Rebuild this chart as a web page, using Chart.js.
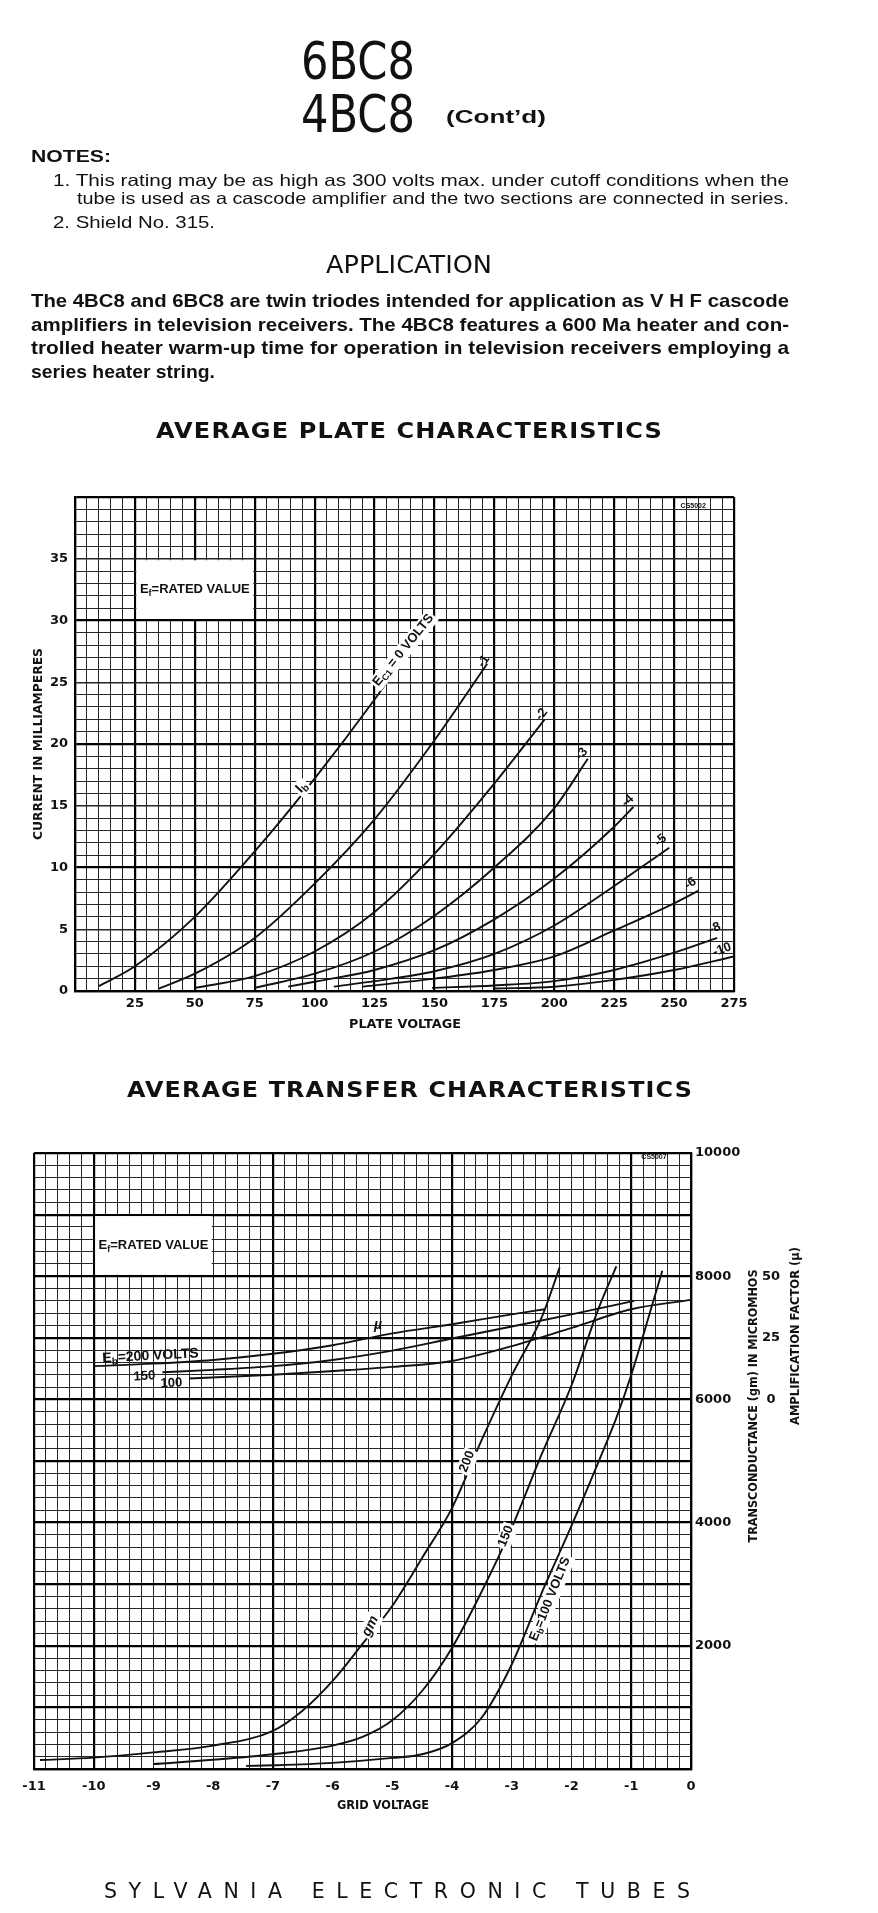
<!DOCTYPE html>
<html>
<head>
<meta charset="utf-8">
<title>6BC8 / 4BC8 characteristics</title>
<script src="https://cdn.jsdelivr.net/npm/chart.js@4.4.0/dist/chart.umd.min.js"></script>
<style>
  html, body { margin: 0; padding: 0; background: #fff; }
  #page { position: relative; width: 878px; height: 1913px; overflow: hidden; background: #fff; }
  canvas { position: absolute; left: 0; }
  #plate { top: 440px; }
  #transfer { top: 1110px; }
  #txt { position: absolute; left: 0; top: 0; pointer-events: none; }
</style>
</head>
<body>
<div id="page">
  <canvas id="plate" width="878" height="600"></canvas>
  <canvas id="transfer" width="878" height="720"></canvas>
  <svg id="txt" width="878" height="1913">
    <g font-family="DejaVu Sans" fill="#111">
      <text x="301" y="79" font-size="51" textLength="114" lengthAdjust="spacingAndGlyphs">6BC8</text>
      <text x="301" y="132" font-size="51" textLength="114" lengthAdjust="spacingAndGlyphs">4BC8</text>
      <text x="446" y="123" font-family="Liberation Sans" font-weight="bold" font-size="19" textLength="100" lengthAdjust="spacingAndGlyphs">(Cont’d)</text>

      <g font-family="Liberation Sans">
        <text x="31" y="162" font-weight="bold" font-size="17" textLength="80" lengthAdjust="spacingAndGlyphs">NOTES:</text>
        <text x="53" y="186" font-size="16.5" textLength="736" lengthAdjust="spacingAndGlyphs">1. This rating may be as high as 300 volts max. under cutoff conditions when the</text>
        <text x="77" y="204" font-size="16.5" textLength="712" lengthAdjust="spacingAndGlyphs">tube is used as a cascode amplifier and the two sections are connected in series.</text>
        <text x="53" y="228" font-size="16.5" textLength="162" lengthAdjust="spacingAndGlyphs">2. Shield No. 315.</text>
      </g>

      <text x="326" y="273" font-size="24" textLength="166" lengthAdjust="spacingAndGlyphs">APPLICATION</text>

      <g font-family="Liberation Sans" font-weight="bold" font-size="18.5">
        <text x="31" y="307" textLength="758" lengthAdjust="spacingAndGlyphs">The 4BC8 and 6BC8 are twin triodes intended for application as V H F cascode</text>
        <text x="31" y="331" textLength="758" lengthAdjust="spacingAndGlyphs">amplifiers in television receivers. The 4BC8 features a 600 Ma heater and con-</text>
        <text x="31" y="354" textLength="758" lengthAdjust="spacingAndGlyphs">trolled heater warm-up time for operation in television receivers employing a</text>
        <text x="31" y="378" textLength="184" lengthAdjust="spacingAndGlyphs">series heater string.</text>
      </g>

      <g font-weight="bold" font-size="21" letter-spacing="1">
        <text x="156" y="438" textLength="507" lengthAdjust="spacingAndGlyphs">AVERAGE  PLATE  CHARACTERISTICS</text>
        <text x="127" y="1097" textLength="566" lengthAdjust="spacingAndGlyphs">AVERAGE  TRANSFER  CHARACTERISTICS</text>
      </g>

      <g font-weight="bold" font-size="11.5" text-anchor="middle">
        <text transform="translate(42,744) rotate(-90)" textLength="192" lengthAdjust="spacingAndGlyphs">CURRENT IN MILLIAMPERES</text>
        <text x="405" y="1028" textLength="112" lengthAdjust="spacingAndGlyphs">PLATE VOLTAGE</text>
        <text x="383" y="1809" textLength="92" lengthAdjust="spacingAndGlyphs">GRID VOLTAGE</text>
        <text transform="translate(757,1406) rotate(-90)" textLength="273" lengthAdjust="spacingAndGlyphs">TRANSCONDUCTANCE (gm) IN MICROMHOS</text>
        <text transform="translate(799,1336) rotate(-90)" textLength="178" lengthAdjust="spacingAndGlyphs">AMPLIFICATION FACTOR (µ)</text>
      </g>

      <text x="104" y="1898" font-size="20.5" textLength="586">SYLVANIA ELECTRONIC TUBES</text>
    </g>
  </svg>
</div>

<script>
  // ---- plate characteristics: plate volts vs plate mA, one pair per grid voltage
  const plateVoltTicks = [25, 50, 75, 100, 125, 150, 175, 200, 225, 250, 275];
  const plateMaTicks = [0, 5, 10, 15, 20, 25, 30, 35];

  const ec0Volts = [10, 25, 50, 75, 100, 125, 150];
  const ec0Ma = [0.4, 2.0, 6.0, 11.3, 17.2, 23.6, 30.5];
  const ec1Volts = [35, 50, 75, 100, 125, 150, 172];
  const ec1Ma = [0.2, 1.4, 4.3, 8.7, 13.9, 20.3, 26.5];
  const ec2Volts = [50, 75, 100, 125, 150, 175, 196];
  const ec2Ma = [0.25, 1.2, 3.2, 6.4, 11.1, 16.8, 22.0];
  const ec3Volts = [75, 100, 125, 150, 175, 200, 214];
  const ec3Ma = [0.25, 1.4, 3.2, 6.1, 10.0, 14.8, 18.8];
  const ec4Volts = [89, 100, 125, 150, 175, 200, 225, 233];
  const ec4Ma = [0.35, 0.75, 1.7, 3.3, 5.8, 9.1, 13.3, 14.9];
  const ec5Volts = [108, 125, 150, 175, 200, 225, 248];
  const ec5Ma = [0.35, 0.8, 1.6, 3.0, 5.3, 8.5, 11.6];
  const ec6Volts = [120, 150, 175, 200, 225, 250, 260];
  const ec6Ma = [0.35, 1.0, 1.7, 2.8, 4.9, 7.1, 8.1];
  const ec8Volts = [149, 175, 200, 225, 250, 268];
  const ec8Ma = [0.25, 0.45, 0.8, 1.7, 3.1, 4.3];
  const ec10Volts = [175, 200, 225, 250, 275];
  const ec10Ma = [0.2, 0.35, 0.9, 1.7, 2.8];

  // ---- transfer characteristics: grid volts vs gm (micromhos) and mu
  const gridVoltTicks = [-11, -10, -9, -8, -7, -6, -5, -4, -3, -2, -1, 0];
  const gmTicks = [2000, 4000, 6000, 8000, 10000];
  const muTicks = [0, 25, 50];

  const gm200Volts = [-10.9, -10, -9, -8, -7, -6.5, -6, -5.5, -5, -4.5, -4, -3.5, -3, -2.5, -2.2];
  const gm200 = [145, 185, 270, 380, 620, 950, 1430, 2030, 2650, 3430, 4240, 5350, 6390, 7330, 8140];
  const gm150Volts = [-9, -8, -7, -6, -5.5, -5, -4.5, -4, -3.5, -3, -2.5, -2, -1.55, -1.25];
  const gm150 = [80, 150, 240, 380, 520, 790, 1270, 1970, 2890, 3920, 5110, 6230, 7470, 8160];
  const gm100Volts = [-7.45, -7, -6, -5, -4.5, -4, -3.5, -3, -2.5, -2, -1.5, -1.25, -1, -0.66, -0.48];
  const gm100 = [50, 60, 100, 180, 240, 420, 840, 1700, 2860, 3950, 5100, 5700, 6400, 7500, 8090];

  const mu200Volts = [-10, -9, -8, -7, -6, -5, -4, -3, -2.45];
  const mu200 = [13.5, 14.5, 16, 18.5, 22, 26.8, 30.5, 34.5, 36.6];
  const mu150Volts = [-8.85, -8, -7, -6, -5, -4, -3, -2, -0.95];
  const mu150 = [11, 12, 13.5, 16, 19.8, 24.7, 29.6, 34.5, 40];
  const mu100Volts = [-8.4, -7, -6, -5, -4, -3, -2, -1, 0];
  const mu100 = [8.5, 10, 11.5, 13.2, 15.6, 21.6, 29, 36.6, 40.4];

  Chart.defaults.font.family = 'DejaVu Sans';
  Chart.defaults.color = '#111';

  function steps(min, max, step) {
    const out = [];
    const n = Math.round((max - min) / step);
    for (let i = 0; i <= n; i++) out.push(+(min + i * step).toFixed(4));
    return out;
  }

  function curve(xs, ys, axis) {
    return {
      data: xs.map((x, i) => ({ x: x, y: ys[i] })),
      yAxisID: axis || 'y',
      showLine: true,
      borderColor: '#111',
      borderWidth: 1.9,
      pointRadius: 0,
      cubicInterpolationMode: 'monotone',
      fill: false
    };
  }

  // text with optional subscripts, rotated around its centre
  function drawRich(ctx, x, y, l) {
    const size = l.size || 12;
    const style = l.italic ? 'italic bold ' : 'bold ';
    const main = style + size + 'px "Liberation Sans"';
    const sub = style + Math.round(size * 0.72) + 'px "Liberation Sans"';
    ctx.save();
    ctx.translate(x, y);
    ctx.rotate((l.angle || 0) * Math.PI / 180);
    let w = 0;
    const parts = l.parts.map(p => {
      ctx.font = p[1] ? sub : main;
      const pw = ctx.measureText(p[0]).width;
      w += pw;
      return { t: p[0], sub: p[1], w: pw };
    });
    if (l.bg) {
      ctx.fillStyle = '#fff';
      ctx.fillRect(-w / 2 - 2, -size / 2 - 1, w + 4, size + 3);
    }
    ctx.fillStyle = '#111';
    ctx.textBaseline = 'middle';
    let cx = -w / 2;
    parts.forEach(p => {
      ctx.font = p.sub ? sub : main;
      ctx.fillText(p.t, cx, p.sub ? size * 0.28 : 0);
      cx += p.w;
    });
    ctx.restore();
  }

  const curveLabels = {
    id: 'curveLabels',
    beforeDatasetsDraw(chart, args, opts) {
      const { ctx, scales } = chart;
      (opts.boxes || []).forEach(b => {
        const x0 = scales.x.getPixelForValue(b.x0);
        const x1 = scales.x.getPixelForValue(b.x1);
        const yTop = scales.y.getPixelForValue(b.y1);
        const yBot = scales.y.getPixelForValue(b.y0);
        ctx.fillStyle = '#fff';
        ctx.fillRect(x0 + 1.5, yTop + 1.5, x1 - x0 - 3, yBot - yTop - 3);
      });
    },
    afterDatasetsDraw(chart, args, opts) {
      const { ctx, scales } = chart;
      (opts.labels || []).forEach(l => {
        const px = scales.x.getPixelForValue(l.x);
        const py = scales[l.axis || 'y'].getPixelForValue(l.y);
        drawRich(ctx, px, py, l);
      });
    }
  };

  function gridStyle(heavyFn, medFn) {
    return {
      drawTicks: false,
      color: c => (c.tick && heavyFn(c.tick.value)) ? '#000' : '#262626',
      lineWidth: c => {
        if (!c.tick) return 1;
        if (heavyFn(c.tick.value)) return 2.2;
        if (medFn && medFn(c.tick.value)) return 1.5;
        return 1;
      }
    };
  }

  const tickFont = { size: 13, weight: 'bold' };

  // ---------- plate chart
  new Chart(document.getElementById('plate'), {
    type: 'scatter',
    data: {
      datasets: [
        curve(ec0Volts, ec0Ma), curve(ec1Volts, ec1Ma), curve(ec2Volts, ec2Ma),
        curve(ec3Volts, ec3Ma), curve(ec4Volts, ec4Ma), curve(ec5Volts, ec5Ma),
        curve(ec6Volts, ec6Ma), curve(ec8Volts, ec8Ma), curve(ec10Volts, ec10Ma)
      ]
    },
    options: {
      responsive: false,
      animation: false,
      layout: { padding: { top: 57, right: 144, left: 0, bottom: 0 } },
      plugins: {
        legend: { display: false },
        tooltip: { enabled: false },
        curveLabels: {
          boxes: [{ x0: 25, x1: 75, y0: 30, y1: 35 }],
          labels: [
            { x: 50, y: 32.5, parts: [['E'], ['f', 1], ['=RATED VALUE']], size: 13 },
            { x: 137, y: 27.6, angle: -51, parts: [['E'], ['C1', 1], [' = 0 VOLTS']], size: 13, bg: true },
            { x: 94.6, y: 16.5, angle: -47, parts: [['I'], ['b', 1]], size: 14, bg: true },
            { x: 170.5, y: 26.7, angle: -55, parts: [['-1']], size: 13 },
            { x: 194.7, y: 22.4, angle: -52, parts: [['-2']], size: 13 },
            { x: 211.4, y: 19.2, angle: -50, parts: [['-3']], size: 13 },
            { x: 230.6, y: 15.4, angle: -43, parts: [['-4']], size: 13 },
            { x: 244.4, y: 12.2, angle: -40, parts: [['-5']], size: 13 },
            { x: 256.8, y: 8.7, angle: -33, parts: [['-6']], size: 13 },
            { x: 267, y: 5.1, angle: -22, parts: [['-8']], size: 13 },
            { x: 270, y: 3.35, angle: -20, parts: [['-10']], size: 13 },
            { x: 258, y: 39.3, parts: [['CS5002']], size: 7 }
          ]
        }
      },
      scales: {
        x: {
          type: 'linear', min: 0, max: 275,
          afterBuildTicks: s => { s.ticks = steps(0, 275, 5).map(v => ({ value: v })); },
          afterFit: s => { s.height = 49; },
          ticks: {
            autoSkip: false, maxRotation: 0, padding: 5, font: tickFont,
            callback: v => plateVoltTicks.includes(v) ? String(v) : ''
          },
          grid: gridStyle(v => v % 25 === 0),
          border: { color: '#000', width: 2.2 }
        },
        y: {
          type: 'linear', position: 'left', min: 0, max: 40,
          afterBuildTicks: s => { s.ticks = steps(0, 40, 1).map(v => ({ value: v })); },
          afterFit: s => { s.width = 75; },
          ticks: {
            autoSkip: false, padding: 7, font: tickFont,
            callback: v => plateMaTicks.includes(v) ? String(v) : ''
          },
          grid: gridStyle(v => v % 10 === 0, v => v % 5 === 0),
          border: { color: '#000', width: 2.2 }
        }
      }
    },
    plugins: [curveLabels]
  });

  // ---------- transfer chart
  const heavyGridVolts = [-11, -10, -7, -4, -1, 0];

  new Chart(document.getElementById('transfer'), {
    type: 'scatter',
    data: {
      datasets: [
        curve(gm200Volts, gm200), curve(gm150Volts, gm150), curve(gm100Volts, gm100),
        curve(mu200Volts, mu200, 'mu'), curve(mu150Volts, mu150, 'mu'), curve(mu100Volts, mu100, 'mu')
      ]
    },
    options: {
      responsive: false,
      animation: false,
      layout: { padding: { top: 43, right: 95, left: 34, bottom: 0 } },
      plugins: {
        legend: { display: false },
        tooltip: { enabled: false },
        curveLabels: {
          boxes: [{ x0: -10, x1: -8, y0: 8000, y1: 9000 }],
          labels: [
            { x: -9, y: 8500, parts: [['E'], ['f', 1], ['=RATED VALUE']], size: 13 },
            { x: -9.05, y: 17.6, axis: 'mu', angle: -3, parts: [['E'], ['b', 1], ['=200 VOLTS']], size: 14 },
            { x: -9.15, y: 9.4, axis: 'mu', angle: -3, parts: [['150']], size: 13 },
            { x: -8.7, y: 6.6, axis: 'mu', angle: -3, parts: [['100']], size: 13 },
            { x: -5.24, y: 30.2, axis: 'mu', parts: [['µ']], size: 14, italic: true },
            { x: -3.75, y: 4990, angle: -68, parts: [['200']], size: 13, bg: true },
            { x: -3.1, y: 3780, angle: -68, parts: [['150']], size: 13, bg: true },
            { x: -2.36, y: 2760, angle: -68, parts: [['E'], ['b', 1], ['=100 VOLTS']], size: 13, bg: true },
            { x: -5.37, y: 2320, angle: -65, parts: [['gm']], size: 14, italic: true, bg: true },
            { x: -0.62, y: 9930, parts: [['CS5007']], size: 7 }
          ]
        }
      },
      scales: {
        x: {
          type: 'linear', min: -11, max: 0,
          afterBuildTicks: s => { s.ticks = steps(-11, 0, 0.2).map(v => ({ value: v })); },
          afterFit: s => { s.height = 61; },
          ticks: {
            autoSkip: false, maxRotation: 0, padding: 10, font: tickFont,
            callback: v => gridVoltTicks.includes(v) ? String(v) : ''
          },
          grid: gridStyle(v => heavyGridVolts.includes(v)),
          border: { color: '#000', width: 2.2 }
        },
        y: {
          type: 'linear', position: 'right', weight: 0, min: 0, max: 10000,
          afterBuildTicks: s => { s.ticks = steps(0, 10000, 200).map(v => ({ value: v })); },
          afterFit: s => { s.width = 70; },
          ticks: {
            autoSkip: false, padding: 4, font: tickFont,
            callback: v => gmTicks.includes(v) ? String(v) : ''
          },
          grid: gridStyle(v => v % 1000 === 0),
          border: { color: '#000', width: 2.2 }
        },
        mu: {
          type: 'linear', position: 'right', weight: 1, min: -150, max: 100,
          afterBuildTicks: s => { s.ticks = steps(-150, 100, 25).map(v => ({ value: v })); },
          afterFit: s => { s.width = 22; },
          ticks: {
            autoSkip: false, padding: 1, crossAlign: 'center', font: tickFont,
            callback: v => muTicks.includes(v) ? String(v) : ''
          },
          grid: { display: false, drawTicks: false },
          border: { display: false }
        }
      }
    },
    plugins: [curveLabels]
  });
</script>
</body>
</html>
